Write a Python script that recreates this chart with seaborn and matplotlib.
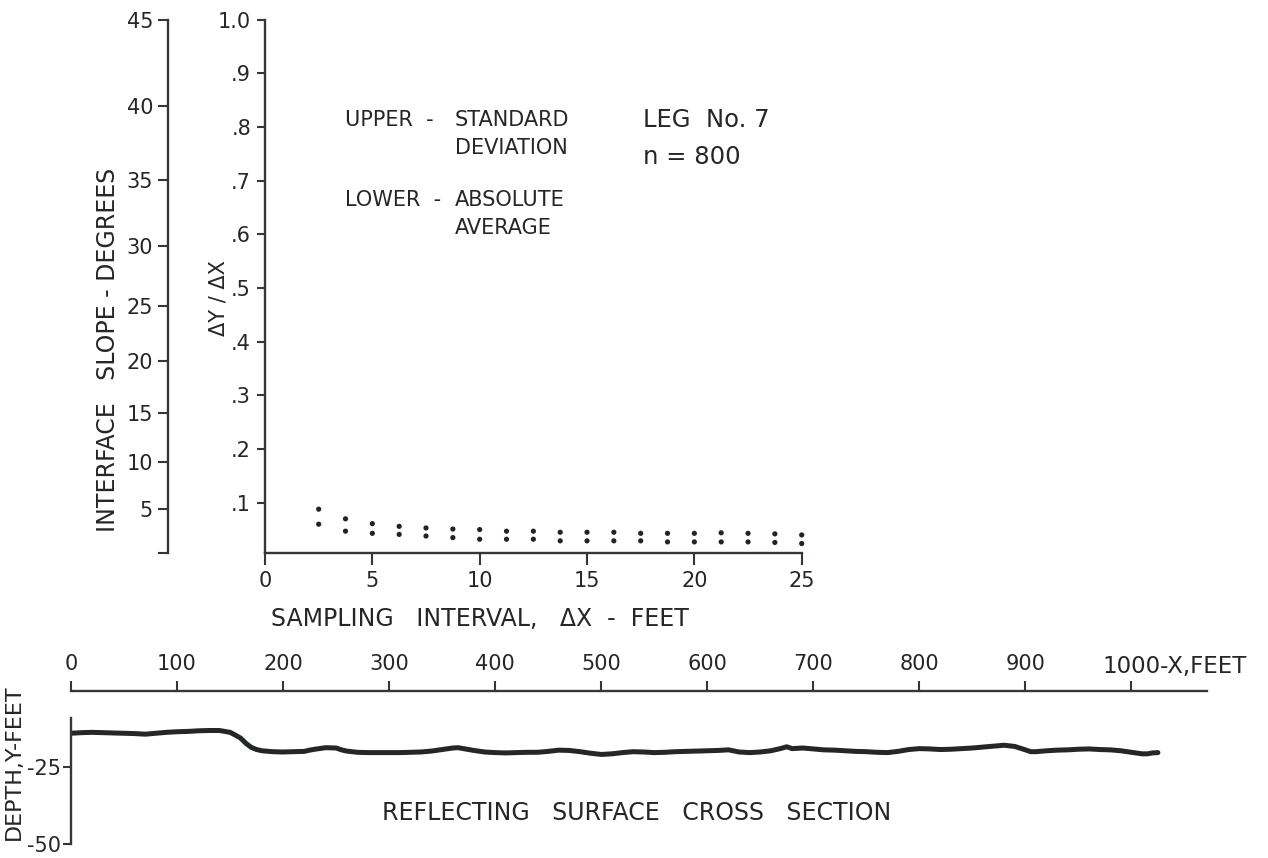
import matplotlib
matplotlib.use("Agg")
import matplotlib.pyplot as plt
import numpy as np
import pandas as pd
import seaborn as sns

# ---- slope statistics vs. sampling interval (leg No. 7, n = 800) ----
interval_ft = [2.5, 3.75, 5.0, 6.25, 7.5, 8.75, 10.0, 11.25, 12.5, 13.75,
               15.0, 16.25, 17.5, 18.75, 20.0, 21.25, 22.5, 23.75, 25.0]
std_dev = [0.088, 0.070, 0.061, 0.056, 0.053, 0.051, 0.050, 0.047, 0.047, 0.045,
           0.045, 0.045, 0.043, 0.043, 0.043, 0.044, 0.043, 0.042, 0.040]
abs_avg = [0.060, 0.047, 0.043, 0.041, 0.038, 0.035, 0.032, 0.032, 0.032, 0.029,
           0.029, 0.029, 0.029, 0.027, 0.027, 0.027, 0.027, 0.026, 0.024]

interval_ticks = [0, 5, 10, 15, 20, 25]
ratio_ticks = [0.1, 0.2, 0.3, 0.4, 0.5, 0.6, 0.7, 0.8, 0.9, 1.0]
ratio_labels = [".1", ".2", ".3", ".4", ".5", ".6", ".7", ".8", ".9", "1.0"]
slope_deg_ticks = [5, 10, 15, 20, 25, 30, 35, 40, 45]

# ---- reflecting surface cross section ----
profile_x_ft = [0, 10, 20, 30, 40, 50, 60, 70, 80, 90, 100, 110, 120, 130, 140,
                150, 155, 160, 165, 170, 175, 180, 190, 200, 210, 220, 225, 230,
                240, 250, 255, 260, 270, 280, 290, 300, 310, 320, 330, 340, 350,
                360, 365, 370, 380, 390, 400, 410, 420, 430, 440, 450, 460, 470,
                480, 490, 500, 510, 520, 530, 540, 550, 560, 570, 580, 590, 600,
                610, 620, 630, 640, 650, 660, 670, 675, 680, 690, 700, 710, 720,
                730, 740, 750, 760, 770, 780, 790, 800, 810, 820, 830, 840, 850,
                860, 870, 880, 890, 900, 905, 910, 920, 930, 940, 950, 960, 970,
                980, 990, 1000, 1010, 1015, 1020, 1025]
profile_depth_ft = [-13.9, -13.7, -13.6, -13.7, -13.8, -13.9, -14.0, -14.2, -13.9,
                    -13.6, -13.4, -13.3, -13.1, -13.0, -13.0, -13.6, -14.5, -15.5,
                    -17.2, -18.5, -19.2, -19.6, -19.9, -20.0, -19.9, -19.8, -19.4,
                    -19.1, -18.6, -18.7, -19.3, -19.7, -20.1, -20.2, -20.2, -20.2,
                    -20.2, -20.1, -20.0, -19.7, -19.2, -18.7, -18.6, -18.9, -19.5,
                    -20.0, -20.2, -20.3, -20.2, -20.1, -20.1, -19.8, -19.4, -19.5,
                    -19.9, -20.4, -20.8, -20.6, -20.2, -19.9, -20.0, -20.2, -20.1,
                    -19.9, -19.8, -19.7, -19.6, -19.5, -19.3, -20.0, -20.2, -20.0,
                    -19.6, -18.8, -18.3, -18.9, -18.7, -19.0, -19.3, -19.4, -19.6,
                    -19.8, -19.9, -20.1, -20.2, -19.8, -19.2, -18.9, -19.0, -19.2,
                    -19.1, -18.9, -18.7, -18.4, -18.1, -17.8, -18.2, -19.3, -19.9,
                    -19.9, -19.6, -19.4, -19.3, -19.1, -19.0, -19.2, -19.3, -19.6,
                    -20.1, -20.6, -20.6, -20.3, -20.2]
profile_ticks = [0, 100, 200, 300, 400, 500, 600, 700, 800, 900, 1000]
profile_labels = ["0", "100", "200", "300", "400", "500", "600", "700", "800", "900", ""]
depth_ticks = [-25, -50]
depth_labels = ["-25", "-50"]

W, H = 1268, 858
PT = 72 / 100  # points per pixel at 100 dpi
INK = "#262626"
LINE = "#323832"
TICK_FS = 15
Y_BOTTOM = 0.0058

sns.set_style("ticks")
plt.rcParams["font.family"] = ["DejaVu Sans"]
plt.rcParams["text.color"] = INK
plt.rcParams["xtick.color"] = LINE
plt.rcParams["ytick.color"] = LINE
plt.rcParams["xtick.labelcolor"] = INK
plt.rcParams["ytick.labelcolor"] = INK

fig = plt.figure(figsize=(W / 100, H / 100), dpi=100)
fig.patch.set_facecolor("white")


def px_box(left, top, right, bottom):
    return [left / W, 1 - bottom / H, (right - left) / W, (bottom - top) / H]


def px_text(x, y, s, **kw):
    return fig.text(x / W, 1 - y / H, s, **kw)


# ---- upper panel: slope ratio against sampling interval ----
ax = fig.add_axes(px_box(265, 19.5, 801.7, 553.3))
stats = pd.DataFrame({
    "interval": interval_ft * 2,
    "value": std_dev + abs_avg,
    "stat": ["upper"] * len(std_dev) + ["lower"] * len(abs_avg),
})
sns.scatterplot(data=stats, x="interval", y="value", ax=ax, color="#232323",
                s=14, edgecolor="none", legend=False)
for coll in ax.collections:
    coll.set_clip_on(False)

ax.set_xlim(0, 25)
ax.set_ylim(Y_BOTTOM, 1.0)
ax.set_xlabel("")
ax.set_ylabel("")
sns.despine(ax=ax)
for side in ("left", "bottom"):
    ax.spines[side].set_color(LINE)
    ax.spines[side].set_linewidth(1.7)
ax.set_xticks(interval_ticks)
ax.set_xticklabels([str(t) for t in interval_ticks])
ax.set_yticks(ratio_ticks)
ax.set_yticklabels(ratio_labels)
ax.tick_params(axis="x", direction="out", length=12 * PT, width=1.5,
               pad=6 * PT, labelsize=TICK_FS)
ax.tick_params(axis="y", direction="out", length=8 * PT, width=1.5,
               pad=6 * PT, labelsize=TICK_FS)

# interface slope in degrees, placed at tan(angle) on the same scale;
# an unlabelled tick closes the foot of the scale
sec = ax.secondary_yaxis((168 - 265) / (801.7 - 265))
sec.set_yticks([Y_BOTTOM] + [float(np.tan(np.radians(d))) for d in slope_deg_ticks],
               labels=[""] + [str(d) for d in slope_deg_ticks])
sec.spines["left"].set_color(LINE)
sec.spines["left"].set_linewidth(1.7)
sec.tick_params(axis="y", direction="out", length=10 * PT, width=1.5,
                pad=5 * PT, labelsize=TICK_FS, color=LINE, labelcolor=INK)

px_text(108, 350, "INTERFACE   SLOPE - DEGREES", rotation=90, ha="center",
        va="center", fontsize=17)
px_text(218, 298, "ΔY / ΔX", rotation=90, ha="center", va="center", fontsize=15)
px_text(480, 619, "SAMPLING   INTERVAL,   ΔX  -  FEET", ha="center", va="center",
        fontsize=17)

px_text(345, 125.5, "UPPER  -", ha="left", va="baseline", fontsize=15)
px_text(455, 125.5, "STANDARD", ha="left", va="baseline", fontsize=15)
px_text(455, 154.5, "DEVIATION", ha="left", va="baseline", fontsize=15)
px_text(345, 205.5, "LOWER  -", ha="left", va="baseline", fontsize=15)
px_text(455, 205.5, "ABSOLUTE", ha="left", va="baseline", fontsize=15)
px_text(455, 234.5, "AVERAGE", ha="left", va="baseline", fontsize=15)
px_text(643, 127, "LEG  No. 7", ha="left", va="baseline", fontsize=17.5)
px_text(643, 164, "n = 800", ha="left", va="baseline", fontsize=17.5)

# ---- lower panel: reflecting surface cross section ----
bx = fig.add_axes(px_box(71, 690.6, 1206.7, 845))
sns.lineplot(x=profile_x_ft, y=profile_depth_ft, ax=bx, color="#242824",
             linewidth=3.6)
bx.set_xlim(0, 1071)
bx.set_ylim(-50.3, 0)
bx.set_xlabel("")
bx.set_ylabel("")
bx.spines["bottom"].set_visible(False)
bx.spines["right"].set_visible(False)
for side in ("left", "top"):
    bx.spines[side].set_color(LINE)
    bx.spines[side].set_linewidth(1.7)
bx.spines["left"].set_bounds(-50, -9)
bx.xaxis.tick_top()
bx.set_xticks(profile_ticks)
bx.set_xticklabels(profile_labels)
bx.set_yticks(depth_ticks)
bx.set_yticklabels(depth_labels)
bx.tick_params(axis="x", direction="out", length=10 * PT, width=1.5,
               pad=7 * PT, labelsize=TICK_FS)
bx.tick_params(axis="y", direction="out", length=8 * PT, width=1.5,
               pad=2 * PT, labelsize=TICK_FS)
px_text(1102, 673, "1000-X,FEET", ha="left", va="baseline", fontsize=16.5)

px_text(14, 762, "DEPTH,Y-FEET", rotation=90, ha="center", va="center",
        fontsize=16)
px_text(637, 813, "REFLECTING   SURFACE   CROSS   SECTION", ha="center",
        va="center", fontsize=17)

fig.savefig("out.png", dpi=100, facecolor="white")
